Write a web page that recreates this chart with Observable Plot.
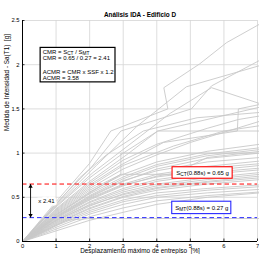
<!DOCTYPE html>
<html><head><meta charset="utf-8">
<script src="https://cdn.jsdelivr.net/npm/d3@7"></script>
<script src="https://cdn.jsdelivr.net/npm/@observablehq/plot@0.6"></script>
<style>body{margin:0;background:#fff} svg{display:block}</style>
</head><body><div id="chart"></div>
<script>
const title = "Análisis IDA - Edificio D";
const xLabel = "Desplazamiento máximo de entrepiso  [%]";
const yLabel = "Medida de Intensidad - Sa(T1)  [g]";
const xTicks = [0, 1, 2, 3, 4, 5, 6, 7];
const yTicks = [0, 0.5, 1, 1.5, 2, 2.5];
const yTickLabels = ["0", "0.5", "1", "1.5", "2", "2.5"];
const S_CT = 0.65;
const S_MT = 0.27;
const ctLabel = "S_{CT}(0.88s) = 0.65 g";
const mtLabel = "S_{MT}(0.88s) = 0.27 g";
const ratioLabel = "x 2.41";
const boxLines = ["CMR = S_{CT} / S_{MT}", "CMR = 0.65 / 0.27 = 2.41", " ", "ACMR = CMR x SSF x 1.2", "ACMR = 3.58"];

// IDA curves: [max interstory drift %, Sa(T1) g]
const records = [
  [[0,0],[1,0.45],[1.99,0.88],[2.63,1.25],[4.33,1.5],[4.21,1.74],[5.28,2.01],[6.08,2.25],[7.07,2.46]],
  [[0,0],[1,0.43],[2.05,0.84],[2.93,1.25],[5.03,1.5],[5.63,1.76],[7.07,2.05]],
  [[0,0],[1,0.41],[2.2,0.86],[3.4,1.3],[4.88,1.75],[7.07,1.99]],
  [[0,0],[1,0.4],[2.1,0.78],[3.2,1.1],[4.4,1.45],[5.63,1.74],[7.07,1.56]],
  [[0,0],[1,0.39],[2,0.72],[3,1.0],[4.03,1.25],[7.07,1.52]],
  [[0,0],[1,0.37],[2,0.68],[3.1,0.98],[4.03,1.25],[7.07,1.25]],
  [[0,0],[1,0.35],[2,0.64],[3,0.88],[4.2,1.12],[6.4,1.25],[6.43,1.5],[7.07,1.55]],
  [[0,0],[1,0.32],[2,0.58],[2.93,0.76],[2.93,1.0],[7.07,1.0]],
  [[0,0],[1,0.34],[2,0.62],[3,0.86],[4.5,1.08],[6,1.25],[7.07,1.31]],
  [[0,0],[1,0.33],[2,0.6],[3,0.82],[4,0.98],[5,1.12],[7.07,1.36]],
  [[0,0],[1,0.31],[2,0.56],[3,0.76],[4,0.9],[5.5,1.02],[7.07,1.1]],
  [[0,0],[1,0.3],[2,0.54],[3,0.73],[4,0.87],[5.5,0.99],[7.07,1.06]],
  [[0,0],[1,0.29],[2,0.52],[3,0.71],[4,0.85],[5.5,0.97],[7.07,1.04]],
  [[0,0],[1,0.3],[2,0.55],[2.93,0.76],[4.5,0.76],[5.5,0.95],[7.07,1.02]],
  [[0,0],[1,0.28],[2,0.5],[3,0.68],[4,0.82],[5.5,0.94],[7.07,1.0]],
  [[0,0],[1,0.27],[2,0.49],[3,0.65],[4,0.76],[5.5,0.85],[7.07,0.91]],
  [[0,0],[1,0.26],[2,0.47],[3,0.63],[4,0.74],[5.5,0.83],[7.07,0.88]],
  [[0,0],[1,0.27],[2,0.48],[3,0.64],[4,0.73],[5.5,0.8],[7.07,0.86]],
  [[0,0],[1,0.25],[2,0.45],[3,0.6],[4,0.7],[5.5,0.78],[7.07,0.83]],
  [[0,0],[1,0.24],[2,0.44],[3,0.58],[4,0.68],[5.5,0.76],[7.07,0.81]],
  [[0,0],[1,0.23],[2,0.42],[3,0.56],[4,0.65],[5.5,0.72],[7.07,0.78]],
  [[0,0],[1,0.22],[2,0.4],[3,0.54],[4,0.63],[5.5,0.7],[7.07,0.76]],
  [[0,0],[1,0.24],[2,0.41],[3,0.53],[4,0.61],[5.5,0.68],[7.07,0.74]],
  [[0,0],[1,0.21],[2,0.38],[3,0.51],[4,0.6],[5.5,0.67],[7.07,0.72]],
  [[0,0],[1,0.2],[2,0.37],[3,0.5],[4,0.58],[5.5,0.65],[7.07,0.7]],
  [[0,0],[1,0.19],[2,0.35],[3,0.47],[4,0.55],[5.5,0.6],[7.07,0.64]],
  [[0,0],[1,0.18],[2,0.33],[3,0.45],[4,0.52],[5.5,0.58],[7.07,0.62]],
  [[0,0],[1,0.16],[2,0.31],[3,0.42],[4,0.5],[5.5,0.55],[7.07,0.59]],
  [[0,0],[1,0.14],[2,0.28],[3,0.38],[4,0.46],[5.5,0.52],[7.07,0.56]],
  [[0,0],[1,0.12],[2,0.24],[3,0.33],[4,0.42],[5.5,0.5],[7.07,0.55]],
  [[0,0],[0.7,0.12],[1.3,0.24],[2,0.26],[7.07,0.26]],
  [[0,0],[1,0.42],[1.7,0.72],[2.5,0.98],[3.6,1.25],[5.2,1.4],[7.07,1.46]],
  [[0,0],[1,0.36],[2,0.66],[3,0.92],[4,1.1],[5.5,1.28],[6.43,1.38],[7.07,1.42]],
  [[0,0],[1,0.28],[2,0.51],[3,0.69],[4,0.8],[5.5,0.9],[7.07,0.95]]
];

// annotation placement (data coords)
const boxFrame = {x1: 0.54, x2: 2.77, y1: 1.80, y2: 2.19};
const boxAnchor = {x: 0.6, y: 2.177};
const ctFrame = {x1: 4.47, x2: 6.26, y1: 0.71, y2: 0.84};
const mtFrame = {x1: 4.46, x2: 6.22, y1: 0.31, y2: 0.45};
const arrowX = 0.24;
const ratioAnchor = {x: 0.47, y: 0.46};

const rows = records.flatMap((r, i) => r.map(([x, y]) => ({rec: i, x, y})));
const FONT = "'Liberation Sans', Arial, sans-serif";
const mid = f => ({x: (f.x1 + f.x2) / 2, y: (f.y1 + f.y2) / 2});

const W = 259, H = 254;
const chart = Plot.plot({
  width: W, height: H,
  marginLeft: 22, marginRight: 2, marginTop: 20, marginBottom: 13,
  style: {fontFamily: FONT, fontSize: "6px", color: "#000", background: "#fff"},
  x: {domain: [0, 7]},
  y: {domain: [0, 2.5]},
  marks: [
    Plot.gridX(xTicks, {stroke: "#d4d4d4", strokeOpacity: 1, strokeWidth: 0.8}),
    Plot.gridY(yTicks, {stroke: "#d4d4d4", strokeOpacity: 1, strokeWidth: 0.8}),
    Plot.line(rows, {x: "x", y: "y", z: "rec", stroke: "#c8c8c8", strokeWidth: 0.9}),
    Plot.ruleY([S_CT], {stroke: "#ff0000", strokeWidth: 1, strokeDasharray: "4.5,3"}),
    Plot.ruleY([S_MT], {stroke: "#2828ff", strokeWidth: 1, strokeDasharray: "4.5,3"}),
    Plot.ruleX([0], {stroke: "#000", strokeWidth: 1}),
    Plot.ruleY([0], {stroke: "#000", strokeWidth: 1}),
    Plot.tickX(xTicks, {stroke: "#000", strokeWidth: 0.8, insetTop: H - 20 - 13 - 2.5}),
    Plot.tickY(yTicks, {stroke: "#000", strokeWidth: 0.8, insetRight: W - 22 - 2 - 2.5}),
    Plot.axisX(xTicks, {tickSize: 0, tickPadding: 2, fontSize: "5.8px", label: null}),
    Plot.axisY(yTicks, {tickSize: 0, tickPadding: 3, fontSize: "5.8px", label: null,
      tickFormat: d => yTickLabels[yTicks.indexOf(d)]}),
    Plot.link([{a: S_CT, b: S_MT}], {x1: () => arrowX, x2: () => arrowX, y1: "a", y2: "b", stroke: "#000", strokeWidth: 0.9}),
    Plot.dot([S_CT], {x: () => arrowX, y: d => d, symbol: "triangle", r: 1.6, fill: "#000", stroke: null, dy: 2.5}),
    Plot.dot([S_MT], {x: () => arrowX, y: d => d, symbol: "triangle", r: 1.6, fill: "#000", stroke: null, dy: -2.5, rotate: 180}),
    Plot.text([ratioLabel], {x: ratioAnchor.x, y: ratioAnchor.y, text: d => d, textAnchor: "start", fontSize: "6px", fill: "#000", stroke: "#fff", strokeWidth: 5}),
    Plot.rect([ctFrame], {x1: "x1", x2: "x2", y1: "y1", y2: "y2", fill: "#fff", stroke: "#ff0000", strokeWidth: 1.1}),
    Plot.rect([mtFrame], {x1: "x1", x2: "x2", y1: "y1", y2: "y2", fill: "#fff", stroke: "#2828ff", strokeWidth: 1.1}),
    Plot.text([ctLabel], {x: mid(ctFrame).x, y: mid(ctFrame).y, text: d => d, fontSize: "6px", fill: "#000"}),
    Plot.text([mtLabel], {x: mid(mtFrame).x, y: mid(mtFrame).y, text: d => d, fontSize: "6px", fill: "#000"}),
    Plot.rect([boxFrame], {x1: "x1", x2: "x2", y1: "y1", y2: "y2", fill: "#fff", stroke: "#000", strokeWidth: 1.2}),
    Plot.text([boxLines.join("\n")], {x: boxAnchor.x, y: boxAnchor.y, text: d => d, textAnchor: "start", lineAnchor: "top", lineHeight: 1.1, fontSize: "6px", fill: "#000"}),
    Plot.text([title], {frameAnchor: "top", dy: -6, lineAnchor: "middle", fontWeight: "bold", fontSize: "6.4px", fill: "#000"}),
    Plot.text([yLabel], {frameAnchor: "left", dx: -16, rotate: -90, lineAnchor: "middle", fontSize: "6.4px", fill: "#000"}),
    Plot.text([xLabel], {frameAnchor: "bottom", dy: 9.6, lineAnchor: "middle", fontSize: "6.4px", fill: "#000"})
  ]
});
document.getElementById("chart").appendChild(chart);

// subscripts
const NS = "http://www.w3.org/2000/svg";
function subscriptify(el) {
  const s = el.textContent;
  if (!s.includes("_{")) return;
  el.textContent = "";
  for (const p of s.split(/(_\{[^}]*\})/)) {
    if (!p) continue;
    const m = p.match(/^_\{(.*)\}$/);
    const t = document.createElementNS(NS, "tspan");
    if (m) { t.textContent = m[1]; t.setAttribute("baseline-shift", "-25%"); t.setAttribute("font-size", "80%"); }
    else t.textContent = p;
    el.appendChild(t);
  }
}
d3.select(chart).selectAll("text").each(function() {
  const kids = Array.from(this.children).filter(c => c.tagName === "tspan");
  if (kids.length) kids.forEach(subscriptify); else subscriptify(this);
});
</script></body></html>
